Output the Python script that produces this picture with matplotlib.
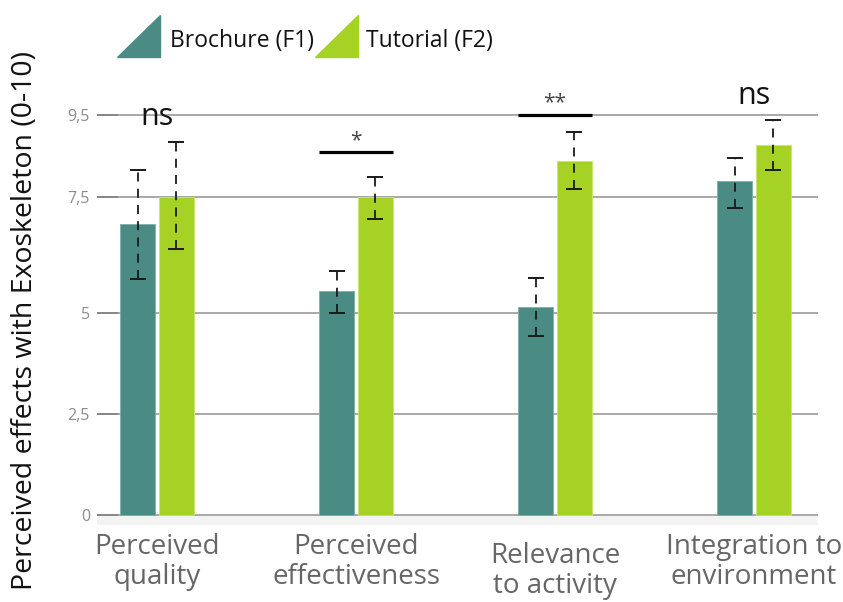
import matplotlib.pyplot as plt
import numpy as np
from matplotlib.patches import Polygon

plt.rcParams['font.family'] = ['Open Sans', 'DejaVu Sans']

# Mean scores with lower / upper error bar ends, per category
categories = ['Perceived\nquality', 'Perceived\neffectiveness',
              'Relevance\nto activity', 'Integration to\nenvironment']
brochure = [6.92, 5.47, 5.13, 7.89]
brochure_lo = [5.73, 5.00, 4.43, 7.28]
brochure_hi = [8.16, 5.90, 5.75, 8.45]
tutorial = [7.50, 7.50, 8.40, 8.79]
tutorial_lo = [6.38, 7.03, 7.70, 8.18]
tutorial_hi = [8.84, 7.99, 9.09, 9.38]

yticks = [0, 2.5, 5, 7.5, 9.5]
ytick_labels = ['0', '2,5', '5', '7,5', '9,5']

# significance marks: (group, text, bracket height or None, text height)
signif = [(0, 'ns', None, 9.26), (1, '*', 8.6, 8.75),
          (2, '**', 9.52, 9.68), (3, 'ns', None, 9.79)]

teal = '#4a8b83'
lime = '#a5d224'

# the value axis is stretched unevenly between its ticks
knots_v = [-1, 0, 2.5, 5, 7.5, 9.5, 11]
knots_p = [-40.4, 0, 101, 202, 318, 400, 461.5]


def fwd(v):
    return np.interp(v, knots_v, knots_p)


def inv(p):
    return np.interp(p, knots_p, knots_v)


fig = plt.figure(figsize=(8.43, 6.02), dpi=100)
ax = fig.add_axes([97 / 843, 77 / 602, 721 / 843, 430 / 602])
ax.set_yscale('function', functions=(fwd, inv))
ax.set_ylim(-0.25, 10)
ax.set_xlim(-0.302, 3.322)

x = np.arange(len(categories))
w = 0.176
off = 0.096

ax.axhspan(-0.25, 0, color='#f3f3f3', zorder=0, lw=0)
for t in yticks:
    ax.axhline(t, color='#a8a8a8', lw=1.4, zorder=1)

ax.bar(x - off, brochure, w, color=teal, edgecolor='#7fb0a9', lw=0.6, zorder=2)
ax.bar(x + off, tutorial, w, color=lime, edgecolor='#c8e66e', lw=0.6, zorder=2)

for xs, mean, lo, hi in [(x - off, brochure, brochure_lo, brochure_hi),
                         (x + off, tutorial, tutorial_lo, tutorial_hi)]:
    mean = np.array(mean)
    yerr = [mean - np.array(lo), np.array(hi) - mean]
    eb = ax.errorbar(xs, mean, yerr=yerr, fmt='none', ecolor='#1a1a1a',
                     elinewidth=1.3, capsize=6, capthick=1.4, zorder=3)
    eb[2][0].set_linestyle((0, (5, 4)))

for g, label, level, ty in signif:
    if level is not None:
        ax.plot([g - off - w / 2, g + off + w / 2], [level, level],
                color='black', lw=2.3, solid_capstyle='butt', zorder=3,
                clip_on=False)
        ax.text(g, ty, label, ha='center', va='baseline', fontsize=15,
                color='#444444', clip_on=False)
    else:
        ax.text(g, ty, label, ha='center', va='baseline', fontsize=22,
                color='#111111', clip_on=False)

ax.set_yticks(yticks)
ax.set_yticklabels(ytick_labels)
ax.tick_params(axis='y', direction='in', length=15, width=1.4,
               color='#888888', labelcolor='#8c8c8c', labelsize=11.5, pad=5)
ax.set_xticks([])
ax.minorticks_off()
for s in ax.spines.values():
    s.set_visible(False)

label_drop = [6, 6, 12, 6]
for i, (cat, dy) in enumerate(zip(categories, label_drop)):
    ax.annotate(cat, xy=(i, 0), xycoords=('data', 'axes fraction'),
                xytext=(0, -dy), textcoords='offset points', ha='center',
                va='top', fontsize=20, color='#666666', linespacing=1.1)

fig.text(25 / 843, 1 - 320 / 602, 'Perceived effects with Exoskeleton (0-10)',
         rotation=90, ha='center', va='center', fontsize=20.5, color='#111111')

# legend with triangular swatches
for (x0, x1), col, txt, tx in [((117, 160), teal, 'Brochure (F1)', 170),
                               ((315, 358), lime, 'Tutorial (F2)', 366)]:
    verts = [(x0 / 843, 1 - 57 / 602), (x1 / 843, 1 - 57 / 602),
             (x1 / 843, 1 - 15 / 602)]
    fig.add_artist(Polygon(verts, closed=True, color=col,
                           transform=fig.transFigure))
    fig.text(tx / 843, 1 - 41 / 602, txt, ha='left', va='center',
             fontsize=16.5, color='#111111')

fig.savefig('out.png', dpi=100)
